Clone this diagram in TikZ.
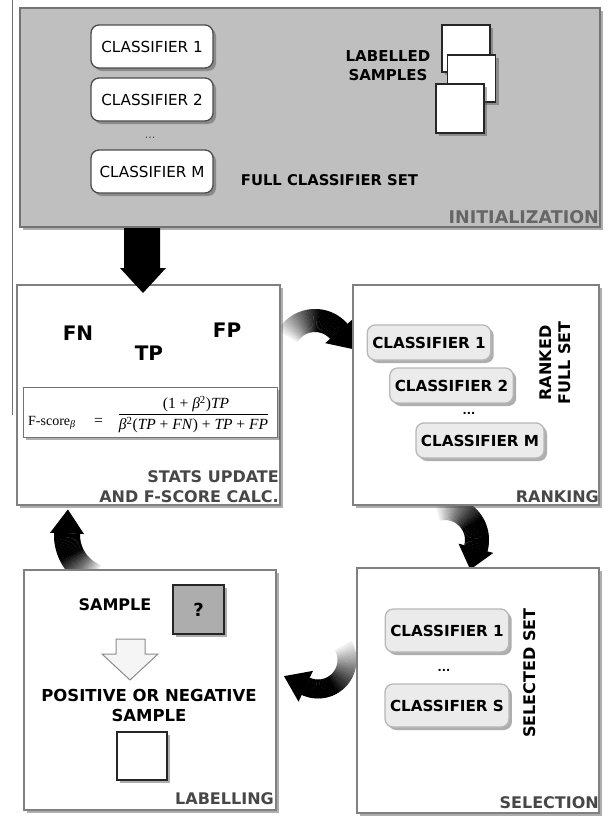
\documentclass[tikz,border=0pt]{standalone}
\usepackage{fontspec}
\setmainfont{DejaVu Sans}
\newfontfamily\tms{Liberation Serif}
\usetikzlibrary{shadows,calc}
\newcommand{\fsz}[2]{\fontsize{#1}{#2}\selectfont}
% gradient arc arrow: cx, cy, r, w, start, end, head half width, head length
\newcommand{\gradarc}[8]{%
 \begin{scope}[shift={(#1,#2)}]
  \pgfmathsetmacro{\ri}{#3-#4}\pgfmathsetmacro{\ro}{#3+#4}
  \foreach \k in {0,...,39}{
    \pgfmathsetmacro{\aa}{#5+(#6-#5)*\k/40}
    \pgfmathsetmacro{\ab}{#5+(#6-#5)*(\k+1.2)/40}
    \pgfmathtruncatemacro{\sh}{min(100,6+100*\k/26)}
    \fill[black!\sh] (\aa:\ri) -- (\aa:\ro) -- (\ab:\ro) -- (\ab:\ri) -- cycle;
  }
  \pgfmathsetmacro{\td}{#6+90*((#6>#5)*2-1)}
  \pgfmathsetmacro{\hi}{#3-#7}\pgfmathsetmacro{\ho}{#3+#7}
  \coordinate (hm) at (#6:#3);
  \fill[black] (#6:\hi) -- (#6:\ho) -- ($(hm)+(\td:#8)$) -- cycle;
 \end{scope}}
\tikzset{
 shd/.style={drop shadow={shadow xshift=3pt,shadow yshift=-3pt,fill=black!70,opacity=.45}},
 panel/.style={draw=black!50, line width=1.6pt, fill=white, inner sep=0pt, shd},
 clsw/.style={draw=black!70, line width=1.3pt, fill=white, rounded corners=8pt, minimum width=122pt, minimum height=43pt, inner sep=0pt, font=\fsz{15.2}{17}, shd},
 clsg/.style={draw=black!28, line width=1.3pt, fill=black!8, rounded corners=8pt, inner xsep=5pt, inner ysep=0pt, font=\bfseries\fsz{15.2}{17}, shd},
 sheet/.style={draw=black!85, line width=1.5pt, fill=white, minimum width=48pt, minimum height=47pt, inner sep=0pt, shd},
 ptitle/.style={font=\bfseries\fsz{16}{20}, text=black!72, inner sep=0pt, align=right},
 lbl/.style={font=\bfseries\fsz{15}{19}, inner sep=0pt, align=center},
 big/.style={font=\bfseries\fsz{20}{24}, inner sep=0pt},
 frm/.style={font=\tms\fsz{15.5}{18}, inner sep=0pt},
}
\begin{document}
\begin{tikzpicture}[x=1pt,y=-1pt]
\useasboundingbox (0,0) rectangle (608,816);
\fill[white] (0,0) rectangle (608,816);
\draw[black!55, line width=1pt] (12,0) -- (12,415);

% curved gradient arrows (drawn behind the panels)
\gradarc{315}{352}{31.5}{11.5}{-150}{-41}{18}{24}
\gradarc{445}{540}{32}{12}{-105}{15}{18}{22}
\gradarc{318}{660}{29}{9.5}{-30}{115}{17}{24}
\gradarc{112}{535}{45}{13}{110}{182}{17}{24}

% INITIALIZATION panel
\node[panel, fill=black!25, draw=black!55, minimum width=580pt, minimum height=219pt] (init) at (310,117.5) {};
\node[clsw] (ic1) at (152,46.5) {CLASSIFIER 1};
\node[clsw] (ic2) at (152,99.5) {CLASSIFIER 2};
\node[font=\fsz{11}{12}, text=black!70] (idots) at (150,138) {...};
\node[clsw] (icm) at (152,171.5) {CLASSIFIER M};
\node[lbl] (labs) at (388,66) {LABELLED\\SAMPLES};
\node[sheet] (s1) at (466,48.5) {};
\node[sheet] (s2) at (471.5,78.5) {};
\node[sheet, minimum height=49pt] (s3) at (460,108.5) {};
\node[font=\bfseries\fsz{14.8}{16}, inner sep=0pt] (fcs) at (329.5,180) {FULL CLASSIFIER SET};
\node[ptitle, text=black!60, font=\bfseries\fsz{17.5}{20}, anchor=east] (tinit) at (599,217) {INITIALIZATION};

% STATS panel
\node[panel, minimum width=263pt, minimum height=220pt] (stats) at (148.5,395) {};
\node[big] (fn) at (78,333) {FN};
\node[big] (tp) at (149,353) {TP};
\node[big] (fp) at (227,330) {FP};
\node[draw=black!55, line width=1pt, fill=white, minimum width=254pt, minimum height=50pt, inner sep=0pt, shd] (fbox) at (150,412) {};
\node[frm, font=\tms\fsz{14}{16}, anchor=west] (fsl) at (28,423) {F-score\raisebox{-0.35ex}{\fsz{10}{11}\itshape β}};
\node[frm] (feq) at (98.5,422) {=};
\node[frm] (fnum) at (196,404) {(1 + \textit{β}\textsuperscript{2})\textit{TP}};
\node[frm] (fden) at (193.5,425) {\textit{β}\textsuperscript{2}(\textit{TP} + \textit{FN}) + \textit{TP} + \textit{FP}};
\draw[line width=0.8pt] (fden.west |- 0,414) -- (fden.east |- 0,414);
\node[ptitle, anchor=east] (tstats) at (279,487) {STATS UPDATE\\AND F-SCORE CALC.};

% RANKING panel
\node[panel, minimum width=246pt, minimum height=220pt] (rank) at (476,395) {};
\node[clsg, minimum height=35pt] (rc1) at (429,342.5) {CLASSIFIER 1};
\node[clsg, minimum height=35pt] (rc2) at (451.5,385.5) {CLASSIFIER 2};
\node[font=\bfseries\fsz{11}{12}, inner sep=0pt] (rdots) at (469,413) {...};
\node[clsg, minimum height=35pt] (rcm) at (480,440.5) {CLASSIFIER M};
\node[lbl, font=\bfseries\fsz{16}{19}, rotate=90] (rfs) at (555,363) {RANKED\\FULL SET};
\node[ptitle, anchor=east] (trank) at (599,497) {RANKING};

% SELECTION panel
\node[panel, minimum width=242pt, minimum height=245pt] (sel) at (478,690.5) {};
\node[clsg, minimum width=122pt, minimum height=43pt] (sc1) at (447,630.5) {CLASSIFIER 1};
\node[font=\bfseries\fsz{11}{12}, inner sep=0pt] (sdots) at (444,670) {...};
\node[clsg, minimum width=122pt, minimum height=43pt] (scs) at (447,705.5) {CLASSIFIER S};
\node[lbl, font=\bfseries\fsz{16}{19}, rotate=90] (sset) at (530,673) {SELECTED SET};
\node[ptitle, anchor=east] (tsel) at (599,803) {SELECTION};

% LABELLING panel
\node[panel, minimum width=252pt, minimum height=240pt] (lab) at (150,690) {};
\node[lbl, font=\bfseries\fsz{16}{19}] (samp) at (115,605) {SAMPLE};
\node[draw=black!85, line width=1.8pt, fill=black!32, minimum width=51pt, minimum height=49pt, inner sep=0pt, font=\bfseries\fsz{18}{20}, shd] (qbox) at (198.5,609.5) {?};
\draw[black!45, line width=1pt, fill=black!4] (116,639) -- (145,639) -- (145,654) -- (158,654) -- (130,680) -- (102,654) -- (116,654) -- cycle;
\node[lbl, font=\bfseries\fsz{16.5}{20}] (pos) at (149,705) {POSITIVE OR NEGATIVE\\SAMPLE};
\node[sheet, minimum width=50pt, minimum height=48pt] (res) at (142,756) {};
\node[ptitle, anchor=east] (tlab) at (274,799) {LABELLING};

% big black arrow init -> stats
\fill[black] (124,228) -- (160,228) -- (160,268) -- (166,268) -- (143,293) -- (120,268) -- (124,268) -- cycle;
\end{tikzpicture}
\end{document}
